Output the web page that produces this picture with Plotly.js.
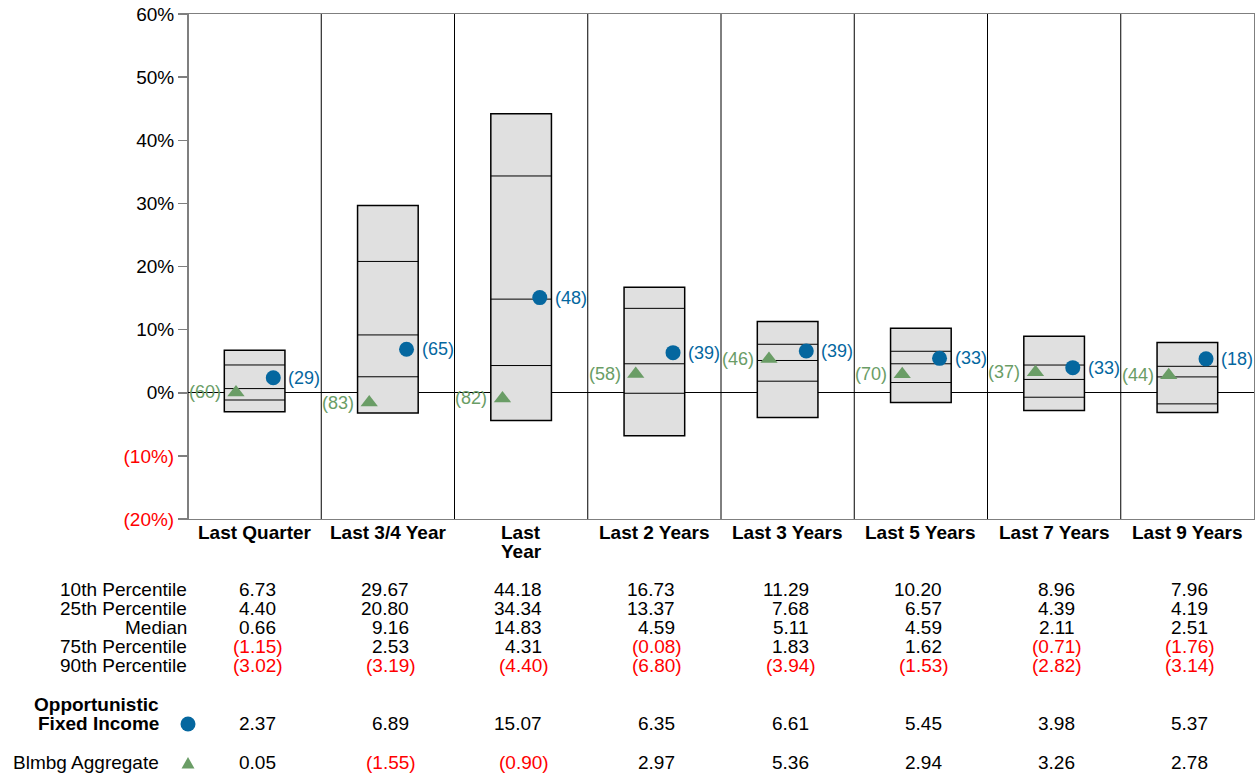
<!DOCTYPE html>
<html>
<head>
<meta charset="utf-8">
<script src="https://cdn.plot.ly/plotly-3.0.1.min.js"></script>
<style>html,body{margin:0;padding:0;background:#fff;}#chart{width:1259px;height:773px;}</style>
</head>
<body>
<div id="chart"></div>
<script>
// ---- data ----
var categories = ['Last Quarter','Last 3/4 Year','Last<br>Year','Last 2 Years','Last 3 Years','Last 5 Years','Last 7 Years','Last 9 Years'];
var p10    = [6.73, 29.67, 44.18, 16.73, 11.29, 10.20, 8.96, 7.96];
var p25    = [4.40, 20.80, 34.34, 13.37, 7.68, 6.57, 4.39, 4.19];
var median = [0.66, 9.16, 14.83, 4.59, 5.11, 4.59, 2.11, 2.51];
var p75    = [-1.15, 2.53, 4.31, -0.08, 1.83, 1.62, -0.71, -1.76];
var p90    = [-3.02, -3.19, -4.40, -6.80, -3.94, -1.53, -2.82, -3.14];
var ofi     = [2.37, 6.89, 15.07, 6.35, 6.61, 5.45, 3.98, 5.37];
var ofiRank = [29, 65, 48, 39, 39, 33, 33, 18];
var agg     = [0.05, -1.55, -0.90, 2.97, 5.36, 2.94, 3.26, 2.78];
var aggRank = [60, 83, 82, 58, 46, 70, 37, 44];
var yTickVals = [-20, -10, 0, 10, 20, 30, 40, 50, 60];
var rowLabels = ['10th Percentile', '25th Percentile', 'Median', '75th Percentile', '90th Percentile'];
var ofiName = ['Opportunistic', 'Fixed Income'];
var aggName = 'Blmbg Aggregate';

// ---- style ----
var FONT = 'Liberation Sans, Arial, Helvetica, sans-serif';
var BLUE = '#05679f';
var GREEN = '#6a9d66';
var RED = '#ff0000';
var BOXW = 0.455, OFF = 0.14;
var PLOT_TOP = 14, PLOT_BOTTOM = 519, W = 1259, H = 773, LEFT = 188, RIGHT = 5;
function py(p) { return (PLOT_BOTTOM - p) / (PLOT_BOTTOM - PLOT_TOP); }
function fmt(v) { return v < 0 ? '(' + Math.abs(v).toFixed(2) + ')' : v.toFixed(2); }

var idx = categories.map(function (_, i) { return i; });

var traces = [];
// boxes 10th-90th
traces.push({
  type: 'bar', x: idx, base: p90,
  y: p10.map(function (v, i) { return v - p90[i]; }),
  width: BOXW,
  marker: { color: '#e0e0e0', line: { color: '#000', width: 1.5 } },
  hoverinfo: 'skip', showlegend: false
});
// inner percentile lines
[p25, median, p75].forEach(function (arr) {
  var xs = [], ys = [];
  arr.forEach(function (v, i) { xs.push(i - BOXW / 2, i + BOXW / 2, null); ys.push(v, v, null); });
  traces.push({ type: 'scatter', mode: 'lines', x: xs, y: ys, line: { color: '#000', width: 1 }, hoverinfo: 'skip', showlegend: false });
});
// markers
traces.push({
  type: 'scatter', mode: 'markers', x: idx.map(function (i) { return i + OFF; }), y: ofi,
  marker: { color: BLUE, size: 15, symbol: 'circle' }, showlegend: false, cliponaxis: false
});
traces.push({
  type: 'scatter', mode: 'markers', x: idx.map(function (i) { return i - OFF; }), y: agg,
  marker: { color: GREEN, size: 15, symbol: 'triangle-up' }, showlegend: false, cliponaxis: false
});

var annotations = [];
var shapes = [];
// rank labels
idx.forEach(function (i) {
  annotations.push({ xref: 'x', yref: 'y', x: i + OFF, y: ofi[i], xanchor: 'left', yanchor: 'middle', xshift: 13,
    text: '(' + ofiRank[i] + ')', showarrow: false, font: { family: FONT, size: 18, color: BLUE } });
  annotations.push({ xref: 'x', yref: 'y', x: i - OFF, y: agg[i], xanchor: 'right', yanchor: 'middle', xshift: -13,
    text: '(' + aggRank[i] + ')', showarrow: false, font: { family: FONT, size: 18, color: GREEN } });
});
// category labels (bold, below plot)
idx.forEach(function (i) {
  var parts = categories[i].split('<br>');
  parts.forEach(function (t, j) {
    annotations.push({ xref: 'x', yref: 'paper', x: i, y: py(532 + j * 19), xanchor: 'center', yanchor: 'middle',
      text: '<b>' + t + '</b>', showarrow: false, font: { family: FONT, size: 19, color: '#000' } });
  });
});
// dividers
for (var k = 0; k < categories.length - 1; k++) {
  shapes.push({ type: 'line', xref: 'x', yref: 'paper', x0: k + 0.5, x1: k + 0.5, y0: 0, y1: 1, line: { color: '#000', width: 1 }, layer: 'below' });
}
shapes.push({ type: 'line', xref: 'x', yref: 'paper', x0: -0.5, x1: -0.5, y0: 0, y1: 1, line: { color: '#000', width: 1 } });

// table
var rowY = [589, 608, 627, 646, 665];
var rows = [p10, p25, median, p75, p90];
rowLabels.forEach(function (lab, r) {
  annotations.push({ xref: 'paper', yref: 'paper', x: 0, y: py(rowY[r]), xanchor: 'right', yanchor: 'middle', xshift: 1,
    text: lab, showarrow: false, font: { family: FONT, size: 19, color: '#000' } });
  rows[r].forEach(function (v, i) {
    annotations.push({ xref: 'x', yref: 'paper', x: i, y: py(rowY[r]), xanchor: 'right', yanchor: 'middle',
      xshift: v < 0 ? 30 : 23, text: fmt(v), showarrow: false, font: { family: FONT, size: 19, color: v < 0 ? RED : '#000' } });
  });
});
annotations.push({ xref: 'paper', yref: 'paper', x: 0, y: py(705), xanchor: 'right', yanchor: 'middle', xshift: -27,
  text: '<b>' + ofiName[0] + '</b>', showarrow: false, font: { family: FONT, size: 19, color: '#000' } });
annotations.push({ xref: 'paper', yref: 'paper', x: 0, y: py(723), xanchor: 'right', yanchor: 'middle', xshift: -27,
  text: '<b>' + ofiName[1] + '</b>', showarrow: false, font: { family: FONT, size: 19, color: '#000' } });
annotations.push({ xref: 'paper', yref: 'paper', x: 0, y: py(762), xanchor: 'right', yanchor: 'middle', xshift: -27,
  text: aggName, showarrow: false, font: { family: FONT, size: 19, color: '#000' } });
idx.forEach(function (i) {
  annotations.push({ xref: 'x', yref: 'paper', x: i, y: py(723), xanchor: 'right', yanchor: 'middle',
    xshift: ofi[i] < 0 ? 30 : 23, text: fmt(ofi[i]), showarrow: false, font: { family: FONT, size: 19, color: ofi[i] < 0 ? RED : '#000' } });
  annotations.push({ xref: 'x', yref: 'paper', x: i, y: py(762), xanchor: 'right', yanchor: 'middle',
    xshift: agg[i] < 0 ? 30 : 23, text: fmt(agg[i]), showarrow: false, font: { family: FONT, size: 19, color: agg[i] < 0 ? RED : '#000' } });
});
// legend symbols in table
shapes.push({ type: 'circle', xref: 'paper', yref: 'paper', xsizemode: 'pixel', ysizemode: 'pixel',
  xanchor: 0, yanchor: py(724), x0: -7.5, x1: 7.5, y0: -7.5, y1: 7.5, fillcolor: BLUE, line: { width: 0 } });
shapes.push({ type: 'path', xref: 'paper', yref: 'paper', xsizemode: 'pixel', ysizemode: 'pixel',
  xanchor: 0, yanchor: py(763), path: 'M -6.5 -5.5 L 6.5 -5.5 L 0 6 Z', fillcolor: GREEN, line: { width: 0 } });

var tickText = yTickVals.map(function (v) {
  return v < 0 ? '<span style="color:' + RED + '">(' + Math.abs(v) + '%)</span>' : v + '%';
});

var layout = {
  width: W, height: H,
  margin: { l: LEFT, r: RIGHT, t: PLOT_TOP, b: H - PLOT_BOTTOM, pad: 0 },
  paper_bgcolor: '#fff', plot_bgcolor: '#fff',
  font: { family: FONT, size: 19, color: '#000' },
  showlegend: false,
  bargap: 0,
  xaxis: {
    range: [-0.5, categories.length - 0.5], tickvals: idx, showticklabels: false,
    ticks: '', showgrid: false, zeroline: false,
    showline: true, mirror: true, linecolor: '#7f7f7f', linewidth: 1, fixedrange: true
  },
  yaxis: {
    range: [-20, 60], tickvals: yTickVals, ticktext: tickText,
    tickfont: { family: FONT, size: 19, color: '#000' },
    ticks: 'outside', ticklen: 9, tickcolor: '#7f7f7f', tickwidth: 1.5,
    showgrid: false, zeroline: true, zerolinecolor: '#000', zerolinewidth: 1,
    showline: true, mirror: true, linecolor: '#7f7f7f', linewidth: 1, fixedrange: true
  },
  shapes: shapes,
  annotations: annotations
};

Plotly.newPlot('chart', traces, layout, { staticPlot: true, displayModeBar: false });
</script>
</body>
</html>
